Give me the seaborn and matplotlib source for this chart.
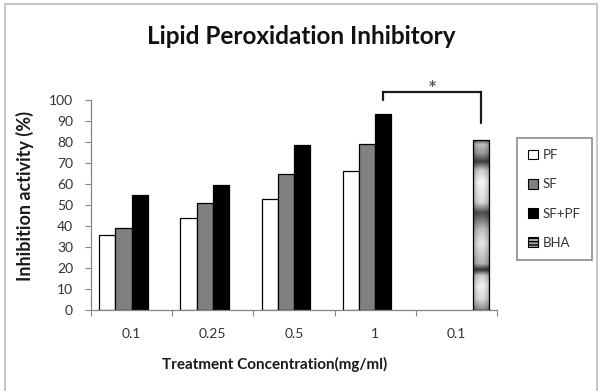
import matplotlib
matplotlib.use("Agg")
import matplotlib.pyplot as plt
from matplotlib.patches import Patch, Rectangle
import numpy as np
import pandas as pd
import seaborn as sns

# data
group_ids = ["g1", "g2", "g3", "g4", "g5"]
conc_labels = ["0.1", "0.25", "0.5", "1", "0.1"]
series = ["PF", "SF", "SF+PF", "BHA"]
pf = [35.5, 44, 53, 66]
sf = [39, 51, 65, 79]
sf_pf = [55, 59.5, 78.5, 93.5]
bha = [81]

colors = {"PF": "#ffffff", "SF": "#808080", "SF+PF": "#000000", "BHA": "#a6a6a6"}


def main():
    rows = []
    for name, vals, groups in [("PF", pf, group_ids[:4]),
                               ("SF", sf, group_ids[:4]),
                               ("SF+PF", sf_pf, group_ids[:4]),
                               ("BHA", bha, group_ids[4:])]:
        for g, v in zip(groups, vals):
            rows.append({"group": g, "value": v, "series": name})
    df = pd.DataFrame(rows)

    sns.set_style("white")
    plt.rcParams["font.family"] = ["Lato", "DejaVu Sans"]

    fig = plt.figure(figsize=(6.09, 3.91), dpi=100)
    ax = fig.add_axes([91 / 609, 81 / 391, 406 / 609, 210 / 391])

    sns.barplot(data=df, x="group", y="value", hue="series", order=group_ids,
                hue_order=series, palette=colors, edgecolor="black",
                linewidth=0.9, errorbar=None, legend=False, ax=ax)

    # metallic banding for the BHA bar, clipped to its own patch
    bha_bar = ax.containers[3].patches[0]
    bha_bar.set_facecolor("none")
    bha_bar.set_zorder(3)
    stops = [(0.0, 0.55), (0.06, 0.85), (0.14, 0.95), (0.2, 0.8), (0.235, 0.2),
             (0.27, 0.7), (0.39, 0.9), (0.47, 0.75), (0.57, 0.3), (0.63, 0.85),
             (0.75, 0.97), (0.82, 0.8), (0.87, 0.25), (0.92, 0.6), (0.97, 0.75),
             (1.0, 0.3)]
    fy = np.linspace(0, 1, 200)
    prof = np.interp(fy, [s[0] for s in stops], [s[1] for s in stops])
    fx = np.linspace(-1, 1, 40)
    shade = 1 - 0.3 * fx ** 2
    img = (prof[:, None] * shade[None, :])
    x0, y0 = bha_bar.get_x(), bha_bar.get_y()
    w, h = bha_bar.get_width(), bha_bar.get_height()
    im = ax.imshow(img, cmap="gray", vmin=0, vmax=1, origin="lower",
                   extent=[x0, x0 + w, y0, y0 + h], aspect="auto", zorder=2)
    im.set_clip_path(bha_bar)

    ax.set_xlim(-0.5, 4.5)
    ax.set_ylim(0, 100)
    ax.set_yticks(range(0, 101, 10))
    ax.set_xticks(range(5))
    ax.set_xticklabels(conc_labels)
    ax.set_xticks(np.arange(-0.5, 5, 1), minor=True)
    ax.tick_params(axis="x", which="major", length=0, pad=13, labelsize=10,
                   labelcolor="#333333")
    ax.tick_params(axis="x", which="minor", length=4, width=0.8,
                   color="#868686", direction="out", bottom=True)
    ax.tick_params(axis="y", length=4, width=0.8, color="#868686",
                   direction="out", left=True, pad=9, labelsize=10,
                   labelcolor="#333333")
    for side in ["top", "right"]:
        ax.spines[side].set_visible(False)
    for side in ["left", "bottom"]:
        ax.spines[side].set_color("#868686")
        ax.spines[side].set_linewidth(0.9)

    ax.set_xlabel("Treatment Concentration(mg/ml)", fontsize=11,
                  fontweight="bold", color="#1a1a1a")
    ax.xaxis.set_label_coords(0.453, -0.225)
    ax.set_ylabel("Inhibition activity (%)", fontsize=13,
                  fontweight="bold", color="#1a1a1a")
    ax.yaxis.set_label_coords(-0.14, 0.545)

    # significance bracket between SF+PF @ 1 and BHA
    xl = 3 + 0.1
    xr = 4 + 0.3
    ax.plot([xl, xl, xr, xr], [100, 104, 104, 89], color="#1a1a1a",
            lw=1.6, clip_on=False, solid_joinstyle="miter")
    ax.text((xl + xr) / 2, 106.5, "*", ha="center", va="center", fontsize=10,
            fontweight="bold", color="#555555", clip_on=False,
            family="DejaVu Sans")

    fig.text(301 / 609, 1 - 36 / 391, "Lipid Peroxidation Inhibitory",
             ha="center", va="center", fontsize=17.5, fontweight="bold",
             color="#111111")

    handles = [Patch(facecolor=colors[s], edgecolor="black", linewidth=0.8)
               for s in series[:3]]
    handles.append(Patch(facecolor=colors["BHA"], edgecolor="black",
                         linewidth=0.8, hatch="-----"))
    leg = ax.legend(handles, series, loc="upper left",
                    bbox_to_anchor=(517 / 609, 253 / 391),
                    bbox_transform=fig.transFigure, borderaxespad=0,
                    fontsize=9.5, frameon=True, fancybox=False,
                    labelspacing=1.3, handlelength=0.75, handleheight=0.75,
                    handletextpad=0.35, borderpad=0.85)
    leg.get_frame().set_edgecolor("#6e6e6e")
    leg.get_frame().set_linewidth(1.2)
    for t in leg.get_texts():
        t.set_color("#333333")

    fig.patches.append(Rectangle((5 / 609, -0.02), 592 / 609, 1 - 4 / 391 + 0.02,
                                 transform=fig.transFigure, fill=False,
                                 edgecolor="#c8c8c8", linewidth=1.5))

    fig.savefig("out.png", dpi=100)


main()
